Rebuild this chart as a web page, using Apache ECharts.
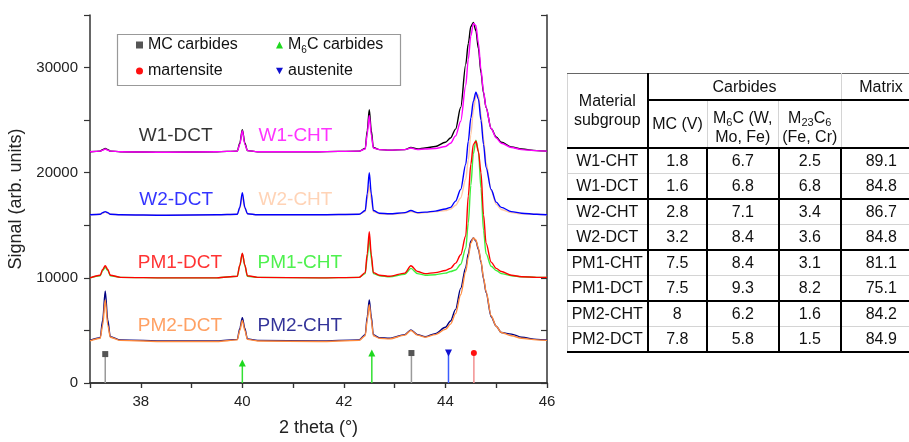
<!DOCTYPE html>
<html>
<head>
<meta charset="utf-8">
<script src="https://cdn.jsdelivr.net/npm/echarts@6/dist/echarts.min.js"></script>
<style>
  html, body { margin: 0; padding: 0; background: #fff; overflow: hidden; width: 909px; height: 442px; }
  #chartId { position: absolute; left: 0; top: 0; width: 909px; height: 442px; }
  #phaseTable {
    position: absolute; left: 567px; top: 73px; width: 353px;
    border-collapse: collapse; table-layout: fixed;
    font-family: "Liberation Sans", Arial, sans-serif; font-size: 16px; color: #111;
  }
  #phaseTable td, #phaseTable th { padding: 0; text-align: center; font-weight: normal; line-height: 19px; }
  #phaseTable sub { font-size: 11px; vertical-align: -3px; line-height: 0; }
</style>
</head>
<body>
<div id="chartId"></div>
<table id="phaseTable"></table>
<script>
// 2 theta positions shared by every pattern
const theta = [37.00, 37.20, 37.25, 37.30, 37.35, 37.40, 37.60, 38.50, 39.50, 39.90,
  39.95, 40.00, 40.05, 40.10, 40.30, 41.50, 42.30, 42.42, 42.46, 42.50,
  42.54, 42.58, 42.70, 42.90, 43.20, 43.32, 43.45, 43.60, 43.80, 44.00,
  44.10, 44.20, 44.30, 44.40, 44.45, 44.50, 44.55, 44.60, 44.65, 44.70,
  44.75, 44.80, 44.90, 45.00, 45.10, 45.30, 45.50, 45.80, 46.00];

const w1Dct = [22000, 22050, 22200, 22300, 22200, 22050, 22000, 21950, 22000, 22050,
  22800, 24100, 22800, 22100, 22000, 22000, 22050, 22300, 24000, 26000,
  24000, 22400, 22200, 22150, 22200, 22400, 22250, 22350, 22500, 22900,
  23300, 24150, 26200, 30300, 32300, 33900, 34300, 33500, 31800, 29500,
  27600, 26200, 24200, 23400, 22900, 22450, 22250, 22100, 22050];
const w1Cht = [22000, 22050, 22150, 22250, 22150, 22050, 22000, 21950, 22000, 22050,
  22700, 24000, 22700, 22100, 22000, 22000, 22050, 22250, 23700, 25450,
  23600, 22350, 22200, 22150, 22200, 22350, 22200, 22250, 22300, 22500,
  22800, 23500, 24900, 28300, 30800, 33000, 34200, 34000, 32300, 29800,
  27700, 26200, 24200, 23300, 22800, 22400, 22200, 22100, 22050];
const w2Dct = [16000, 16050, 16200, 16300, 16200, 16050, 16000, 15950, 16000, 16050,
  16700, 18100, 16700, 16100, 16000, 16000, 16050, 16400, 18000, 20000,
  18000, 16400, 16150, 16100, 16200, 16400, 16200, 16250, 16350, 16550,
  16700, 17300, 18400, 20800, 23000, 25200, 26800, 27650, 27000, 25000,
  22700, 20500, 18400, 17200, 16700, 16300, 16150, 16050, 16000];
const w2Cht = [16000, 16050, 16150, 16250, 16150, 16050, 16000, 15950, 16000, 16050,
  16600, 17700, 16600, 16100, 16000, 16000, 16050, 16300, 17500, 18800,
  17400, 16300, 16100, 16050, 16150, 16300, 16150, 16200, 16300, 16400,
  16550, 16900, 17600, 19400, 21200, 23600, 25900, 27300, 27400, 25600,
  23200, 21000, 18300, 17000, 16500, 16200, 16100, 16050, 16000];
const pm1Dct = [10000, 10250, 10800, 11150, 10800, 10250, 10050, 10000, 10000, 10150,
  11200, 12350, 11200, 10200, 10050, 10000, 10050, 10500, 12300, 14400,
  12200, 10500, 10250, 10150, 10450, 11150, 10600, 10400, 10500, 10700,
  10900, 11400, 12200, 14000, 17800, 20800, 22700, 23000, 22000, 20000,
  16000, 13300, 11500, 10900, 10600, 10250, 10100, 10050, 10050];
const pm1Cht = [10000, 10200, 10700, 11000, 10700, 10200, 10050, 10000, 10000, 10150,
  11150, 12300, 11150, 10150, 10050, 10000, 10050, 10400, 11900, 13800,
  11800, 10400, 10200, 10100, 10350, 10900, 10400, 10250, 10300, 10450,
  10600, 10750, 11300, 12800, 15200, 18800, 21800, 23100, 22000, 18500,
  14500, 12300, 11100, 10700, 10400, 10200, 10100, 10050, 10050];
const pm2Cht = [4050, 4300, 6000, 8750, 6000, 4400, 4100, 4000, 4000, 4150,
  5200, 6200, 5200, 4200, 4050, 4000, 4100, 4600, 6300, 7900,
  6300, 4600, 4300, 4250, 4600, 5050, 4600, 4400, 4700, 5300,
  5900, 7000, 9000, 11000, 12300, 13500, 13800, 13500, 12700, 11500,
  9900, 8600, 6300, 5400, 4800, 4650, 4350, 4150, 4100];
const pm2Dct = [4000, 4250, 5500, 7900, 5500, 4350, 4050, 3950, 3950, 4100,
  5000, 5950, 5000, 4150, 4000, 3950, 4050, 4500, 6000, 7450,
  6000, 4500, 4250, 4200, 4550, 5000, 4550, 4350, 4600, 5100,
  5600, 6600, 8400, 10600, 12000, 13300, 13800, 13600, 12800, 11600,
  10000, 8700, 6400, 5400, 4800, 4500, 4250, 4100, 4050];

// drawing order: later ones lie on top
const sampleNames = ['W1-DCT', 'W1-CHT', 'W2-CHT', 'W2-DCT', 'PM1-CHT', 'PM1-DCT', 'PM2-CHT', 'PM2-DCT'];
const sampleSignals = [w1Dct, w1Cht, w2Cht, w2Dct, pm1Cht, pm1Dct, pm2Cht, pm2Dct];
const sampleColors = ['#000000', '#ff00ff', '#ffc8a4', '#0000ff', '#3df03d', '#ff0000', '#000080', '#ff8a3d'];

// curve captions
const labelText = ['W1-DCT', 'W1-CHT', 'W2-DCT', 'W2-CHT', 'PM1-DCT', 'PM1-CHT', 'PM2-DCT', 'PM2-CHT'];
const labelTheta = [37.95, 40.31, 37.96, 40.31, 37.93, 40.29, 37.93, 40.29];
const labelSignal = [23550, 23550, 17380, 17380, 11460, 11460, 5410, 5410];
const labelColors = ['#000000', '#ff00ff', '#0000ff', '#ffc8a4', '#ff0000', '#22ee22', '#ff8a3d', '#000080'];

// reference phase peaks
const mcTheta = [37.30, 43.33];
const mcHeight = [2750, 2850];
const m6cTheta = [40.00, 42.55];
const m6cHeight = [1900, 2850];
const martTheta = [44.56];
const martHeight = [2850];
const austTheta = [44.06];
const austHeight = [2850];

const xLabels = [38, 40, 42, 44, 46];
const yLabels = [0, 10000, 20000, 30000];

// table values
const tableRows = ['W1-CHT', 'W1-DCT', 'W2-CHT', 'W2-DCT', 'PM1-CHT', 'PM1-DCT', 'PM2-CHT', 'PM2-DCT'];
const mcV = [1.8, 1.6, 2.8, 3.2, 7.5, 7.5, 8, 7.8];
const m6c = [6.7, 6.8, 7.1, 8.4, 8.4, 9.3, 6.2, 5.8];
const m23c6 = [2.5, 6.8, 3.4, 3.6, 3.1, 8.2, 1.6, 1.5];
const matrix = [89.1, 84.8, 86.7, 84.8, 81.1, 75.1, 84.2, 84.9];

const FONT = 'Liberation Sans';
const DOWN_TRI = 'path://M0,0L10,0L5,9Z';

/**
 * stick marks from 0 up to the reference height
 */
function stickData(thetas, heights, symbol, size) {
  let out = [];
  thetas.forEach((t, i) => {
    if (i > 0) out.push('-');
    out.push({ value: [t, 0], symbol: 'none' });
    out.push({ value: [t, heights[i]], symbol: symbol, symbolSize: size });
  });
  return out;
}

function stickSeries(name, thetas, heights, symbol, size, lineColor, markColor) {
  return {
    name: name, type: 'line', xAxisIndex: 0, yAxisIndex: 0,
    data: stickData(thetas, heights, symbol, size),
    symbol: 'none', showSymbol: true, connectNulls: false,
    lineStyle: { color: lineColor, width: 1.5 },
    itemStyle: { color: markColor },
    z: 3
  };
}

/**
 * all series of the chart
 */
function getSeries() {
  let series = sampleNames.map((name, k) => ({
    name: name, type: 'line', xAxisIndex: 0, yAxisIndex: 0,
    data: theta.map((t, i) => [t, sampleSignals[k][i]]),
    showSymbol: false, smooth: 0.3, smoothMonotone: 'x',
    lineStyle: { color: sampleColors[k], width: 1.4 },
    itemStyle: { color: sampleColors[k] },
    z: 2
  }));

  series.push(stickSeries('MC carbides', mcTheta, mcHeight, 'rect', 6, '#9a9a9a', '#555555'));
  series.push(stickSeries('M6C carbides', m6cTheta, m6cHeight, 'triangle', 7, '#33e033', '#1ed81e'));
  series.push(stickSeries('austenite', austTheta, austHeight, DOWN_TRI, 7, '#3a5cff', '#1010d0'));
  series.push(stickSeries('martensite', martTheta, martHeight, 'circle', 6, '#f39090', '#ff1010'));

  // captions of the curves, placed in data coordinates
  series.push({
    type: 'scatter', xAxisIndex: 0, yAxisIndex: 0, symbolSize: 1,
    itemStyle: { color: 'rgba(0,0,0,0)' }, silent: true, z: 4,
    data: labelText.map((txt, i) => ({
      name: txt, value: [labelTheta[i], labelSignal[i]],
      label: { color: labelColors[i] }
    })),
    label: {
      show: true, position: 'right', distance: 0, formatter: '{b}',
      fontSize: 19, fontFamily: FONT
    }
  });
  return series;
}

function legendFormatter(name) {
  if (name === 'M6C carbides') return '{n|M}{s|6}{n|C carbides}';
  return '{n|' + name + '}';
}

function getLegend(left, items) {
  return {
    left: left, top: 35, orient: 'vertical', padding: 0,
    itemWidth: 7, itemHeight: 7, itemGap: 6,
    selectedMode: false,
    data: items,
    formatter: legendFormatter,
    textStyle: {
      fontFamily: FONT, fontSize: 16, color: '#111', lineHeight: 20,
      rich: {
        n: { fontFamily: FONT, fontSize: 16, color: '#111', lineHeight: 20 },
        s: { fontFamily: FONT, fontSize: 10, color: '#111', lineHeight: 20, verticalAlign: 'bottom', padding: [6, 0, 0, 0] }
      }
    }
  };
}

/**
 * basic options
 */
function getOptions() {
  const axisLine = { show: true, lineStyle: { color: '#333', width: 1.5 } };
  const xBase = { type: 'value', min: 37, max: 46, interval: 1, splitLine: { show: false } };
  const yBase = { type: 'value', min: 0, max: 35000, interval: 5000, splitLine: { show: false } };
  return {
    animation: false,
    textStyle: { fontFamily: FONT },
    grid: { left: 90, right: 362, top: 15, bottom: 59, containLabel: false, outerBoundsMode: 'none' },
    xAxis: [
      Object.assign({}, xBase, {
        position: 'bottom', axisLine: axisLine,
        axisTick: { inside: false, length: 5, lineStyle: { color: '#333', width: 1.2 } },
        axisLabel: {
          margin: 11, fontSize: 15, color: '#222', fontFamily: FONT,
          formatter: v => (xLabels.indexOf(v) >= 0 ? String(v) : '')
        },
        name: '2 theta (°)', nameLocation: 'middle', nameGap: 36,
        nameTextStyle: { fontSize: 18, color: '#222', fontFamily: FONT }
      }),
      Object.assign({}, xBase, {
        position: 'top', axisLine: axisLine,
        axisTick: { inside: true, length: 5, lineStyle: { color: '#333', width: 1.2 } },
        axisLabel: { show: false }
      })
    ],
    yAxis: [
      Object.assign({}, yBase, {
        position: 'left', axisLine: axisLine,
        axisTick: { inside: false, length: 6, lineStyle: { color: '#333', width: 1.2 } },
        axisLabel: {
          margin: 12, fontSize: 15, color: '#222', fontFamily: FONT,
          formatter: v => (yLabels.indexOf(v) >= 0 ? String(v) : '')
        },
        name: 'Signal (arb. units)', nameLocation: 'middle', nameGap: 59, nameRotate: 90,
        nameTextStyle: { fontSize: 18, color: '#222', fontFamily: FONT }
      }),
      Object.assign({}, yBase, {
        position: 'right', axisLine: axisLine,
        axisTick: { inside: true, length: 6, lineStyle: { color: '#333', width: 1.2 } },
        axisLabel: { show: false }
      })
    ],
    legend: [
      getLegend(136, [
        { name: 'MC carbides', icon: 'rect', itemStyle: { color: '#555555' } },
        { name: 'martensite', icon: 'circle', itemStyle: { color: '#ff1010' } }
      ]),
      getLegend(276, [
        { name: 'M6C carbides', icon: 'triangle', itemStyle: { color: '#1ed81e' } },
        { name: 'austenite', icon: DOWN_TRI, itemStyle: { color: '#1010d0' } }
      ])
    ],
    graphic: [{
      type: 'rect', left: 115, top: 32, z: 10,
      shape: { width: 283, height: 51 },
      style: { fill: 'none', stroke: '#999', lineWidth: 1.2 }
    }],
    series: getSeries()
  };
}

/**
 * table on the right
 */
function renderTable() {
  const T = '2px solid #000';
  const t = '1px solid #d4d4d4';
  const widths = [80, 59.5, 71.5, 62.5, 79.5];
  let html = '<colgroup>' + widths.map(w => '<col style="width:' + w + 'px">').join('') + '</colgroup>';
  html += '<tr style="height:26px">' +
    '<th rowspan="2" style="border-top:1px solid #666;border-left:' + t + ';border-right:' + T + ';border-bottom:' + T + '">Material<br>subgroup</th>' +
    '<th colspan="3" style="border-top:1px solid #666;border-bottom:' + T + ';border-right:' + t + '">Carbides</th>' +
    '<th style="border-top:1px solid #666;border-bottom:' + T + '">Matrix</th></tr>';
  html += '<tr style="height:48px">' +
    '<th style="border-right:' + t + ';border-bottom:' + T + '">MC (V)</th>' +
    '<th style="border-right:' + t + ';border-bottom:' + T + ';padding-top:6px">M<sub>6</sub>C (W,<br>Mo, Fe)</th>' +
    '<th style="border-right:' + t + ';border-bottom:' + T + ';padding-top:6px">M<sub>23</sub>C<sub>6</sub><br>(Fe, Cr)</th>' +
    '<th style="border-bottom:' + T + '"></th></tr>';
  tableRows.forEach((name, i) => {
    const bottom = (i % 2 === 1) ? T : t;
    const cells = [name, mcV[i], m6c[i], m23c6[i], matrix[i]];
    html += '<tr style="height:25.5px">' + cells.map((c, j) => {
      let st = 'border-bottom:' + bottom + ';';
      if (j === 0) st += 'border-left:' + t + ';';
      if (j < 4) st += 'border-right:' + T + ';';
      return '<td style="' + st + '">' + c + '</td>';
    }).join('') + '</tr>';
  });
  document.getElementById('phaseTable').innerHTML = html;
}

/**
 * init chart
 */
function initChart() {
  let chartDom = document.getElementById('chartId');
  let chart = echarts.init(chartDom, null, { renderer: 'canvas' });
  chart.setOption(getOptions());
  renderTable();
}

initChart();
</script>
</body>
</html>
